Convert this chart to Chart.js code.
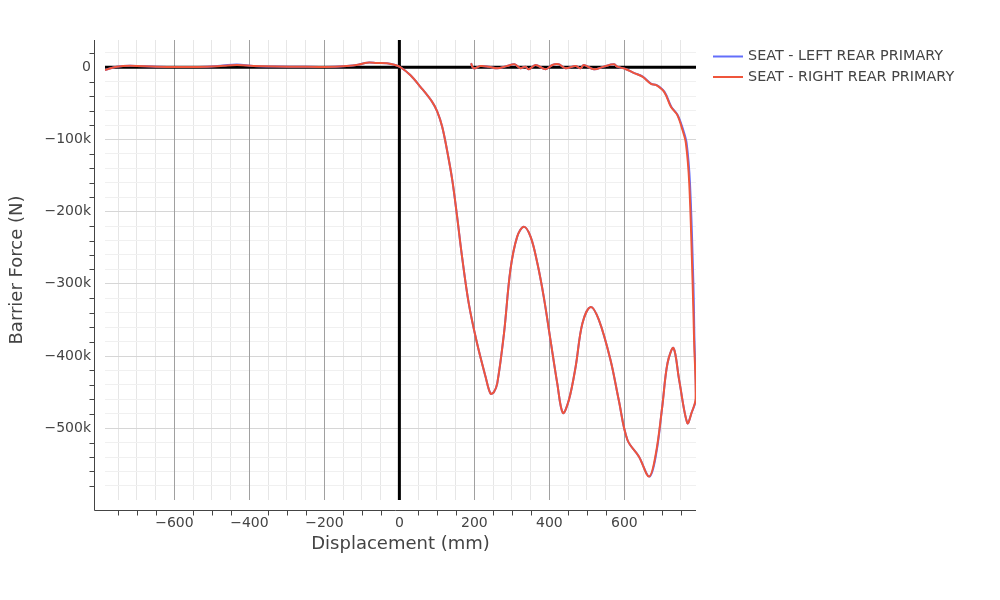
<!DOCTYPE html>
<html>
<head>
<meta charset="utf-8">
<script src="https://cdn.jsdelivr.net/npm/chart.js@4.4.1/dist/chart.umd.min.js"></script>
<style>
  body { margin: 0; background: #fff; }
</style>
</head>
<body>
<canvas id="forceChart" width="1000" height="600"></canvas>
<script>
// series names
var seriesNames = ['SEAT - LEFT REAR PRIMARY', 'SEAT - RIGHT REAR PRIMARY'];

// right rear: displacement (mm), barrier force (kN) - loading then unloading
var rightDisp = [-785, -754, -718, -647, -580, -513, -470, -433, -389, -330, -273, -200, -140, -110, -86, -60, -33, -11, 3,
  29, 56, 87, 101, 114, 127, 141, 154, 167, 185, 207, 230, 243, 252, 261, 279, 296, 314, 332, 350, 368, 385, 403, 421,
  436, 452, 470, 488, 510, 532, 563, 585, 608, 639, 666, 684, 701, 715, 731, 746, 768, 779, 790,
  786, 782, 773, 764, 755, 741, 724, 706, 684, 671, 648, 626, 603, 581, 572, 545, 519, 492, 483, 470, 443, 425, 408,
  390, 363, 345, 336, 323, 307, 287, 261, 238, 216, 198, 191];
var rightForce = [-3.7, 0.8, 2.2, 0.8, 0.5, 0.8, 2, 3, 1.8, 1, 0.8, 0.5, 1.8, 3.5, 6.4, 6, 5.5, 3.2, 0,
  -10.7, -27, -47.6, -61.5, -82, -114.6, -156, -207, -262, -327, -382, -429, -452, -450, -438, -368.5, -281, -235, -221, -235, -271.5, -318, -378, -438,
  -479, -461, -415, -355, -332, -350, -405.5, -461, -516, -539.5, -567, -535, -470, -410, -389, -433, -493, -479, -459,
  -380, -299, -161, -105, -87, -66, -54.6, -34, -24.5, -23, -13, -8, -2.4, 0.9, 4.1, 0.9, -2.8, 3.2, -1.4, 1.8, -1.4, 4.1, 3.2,
  -2.8, 3.2, -2.8, 0.9, -1.4, 4.1, 1.8, -1.4, 0.9, 1.8, -1.4, 5.5];

// left rear: nearly identical trace
var leftDisp = [-785, -754, -718, -647, -580, -513, -470, -433, -389, -330, -273, -200, -140, -110, -86, -60, -33, -11, 3,
  29, 56, 87, 101, 114, 127, 141, 154, 167, 185, 207, 230, 243, 252, 261, 279, 296, 314, 332, 350, 368, 385, 403, 421,
  436, 452, 470, 488, 510, 532, 563, 585, 608, 639, 667, 685, 701, 715, 731, 746, 768, 779, 791,
  787, 784, 775, 766, 757, 742, 725, 707, 685, 672, 649, 627, 603, 581, 572, 545, 519, 492, 483, 470, 443, 425, 408,
  390, 363, 345, 336, 323, 307, 287, 261, 238, 216, 198, 191];
var leftForce = [-3.7, 0.8, 2.2, 0.8, 0.5, 0.8, 2.5, 3.8, 1.8, 1, 0.8, 0.5, 1.8, 3.5, 6.4, 6, 5.5, 3.2, 0,
  -10.7, -27, -47.6, -61.5, -82, -114.6, -156, -207, -262, -327, -382, -429, -452, -450, -438, -368.5, -281, -235, -221, -235, -271.5, -318, -378, -438,
  -479, -461, -415, -355, -332, -350, -405.5, -461, -516, -539.5, -567, -535, -470, -410, -389, -433, -493, -479, -459,
  -380, -299, -161, -105, -87, -66, -54.6, -34, -24.5, -23, -13, -8, -2.4, 0.9, 4.1, 0.9, -2.8, 3.2, -1.4, 1.8, -1.4, 4.1, 3.2,
  -2.8, 3.2, -2.8, 0.9, -1.4, 4.1, 1.8, -1.4, 0.9, 1.8, -1.4, 5.5];

// axis ranges and steps (force axis in kN, labelled with k)
var xMin = -785, xMax = 791, xMinorStep = 50, xLabelStep = 200;
var yMin = -599.5, yMax = 37.8, yMinorStep = 20, yLabelStep = 100;

var FONT = 'DejaVu Sans';
var TEXT = '#444';

function toPoints(xs, ys) {
    return xs.map(function(x, i) { return {x: x, y: ys[i]}; });
}

function minusLabel(v) {
    return v < 0 ? '\u2212' + Math.abs(v) : String(v);
}

// major x grid and black zero lines on top of the light grid, under the traces
var zeroLines = {
    id: 'zeroLines',
    beforeDatasetsDraw: function(chart) {
        var ctx = chart.ctx, a = chart.chartArea;
        var xs = chart.scales.x;
        ctx.save();
        ctx.strokeStyle = '#a0a0a0';
        ctx.lineWidth = 1;
        ctx.beginPath();
        xs.ticks.forEach(function(t) {
            if (t.value === 0 || t.value % xLabelStep !== 0) return;
            var px = Math.round(xs.getPixelForValue(t.value)) + 0.5;
            ctx.moveTo(px, a.top);
            ctx.lineTo(px, a.bottom);
        });
        ctx.stroke();
        var x0 = xs.getPixelForValue(0);
        var y0 = chart.scales.y.getPixelForValue(0);
        ctx.strokeStyle = '#000';
        ctx.lineWidth = 3;
        ctx.beginPath();
        ctx.moveTo(x0, a.top);
        ctx.lineTo(x0, a.bottom);
        ctx.moveTo(a.left, y0);
        ctx.lineTo(a.right, y0);
        ctx.stroke();
        ctx.restore();
    }
};

// offset axis lines with minor tick marks
var offsetAxes = {
    id: 'offsetAxes',
    afterDraw: function(chart) {
        var ctx = chart.ctx, a = chart.chartArea;
        var xs = chart.scales.x, ys = chart.scales.y;
        var axX = a.left - 10.5, axY = a.bottom + 10.5;
        ctx.save();
        ctx.strokeStyle = TEXT;
        ctx.lineWidth = 1;
        ctx.beginPath();
        ctx.moveTo(axX, a.top);
        ctx.lineTo(axX, axY);
        ctx.lineTo(a.right, axY);
        xs.ticks.forEach(function(t) {
            if (t.value % xLabelStep === 0) return;
            var px = Math.round(xs.getPixelForValue(t.value)) + 0.5;
            ctx.moveTo(px, axY);
            ctx.lineTo(px, axY + 5);
        });
        ys.ticks.forEach(function(t) {
            if (t.value % yLabelStep === 0) return;
            var py = Math.round(ys.getPixelForValue(t.value)) + 0.5;
            ctx.moveTo(axX, py);
            ctx.lineTo(axX - 5, py);
        });
        ctx.stroke();
        ctx.restore();
    }
};

// legend on the right, outside the plot
var sideLegend = {
    id: 'sideLegend',
    afterDraw: function(chart) {
        var ctx = chart.ctx;
        ctx.save();
        ctx.font = '14.4px "' + FONT + '"';
        ctx.textBaseline = 'middle';
        chart.data.datasets.forEach(function(ds, i) {
            var y = 56.5 + i * 20.5;
            ctx.strokeStyle = ds.borderColor;
            ctx.lineWidth = 2;
            ctx.beginPath();
            ctx.moveTo(713, y);
            ctx.lineTo(743, y);
            ctx.stroke();
            ctx.fillStyle = TEXT;
            ctx.fillText(ds.label, 748, y);
        });
        ctx.restore();
    }
};

var ctx = document.getElementById('forceChart').getContext('2d');
var forceChart = new Chart(ctx, {
    type: 'scatter',
    data: {
        datasets: [{
            label: seriesNames[0],
            data: toPoints(leftDisp, leftForce),
            borderColor: '#636efa',
            order: 1
        }, {
            label: seriesNames[1],
            data: toPoints(rightDisp, rightForce),
            borderColor: '#ef553b',
            order: 0
        }]
    },
    options: {
        responsive: false,
        animation: false,
        showLine: true,
        elements: {
            point: { radius: 0, hoverRadius: 0 },
            line: { borderWidth: 2, tension: 0.35, fill: false }
        },
        layout: { padding: { left: 7, top: 40, right: 304, bottom: 45 } },
        plugins: {
            legend: { display: false },
            tooltip: { enabled: false }
        },
        scales: {
            x: {
                type: 'linear',
                min: xMin,
                max: xMax,
                afterFit: function(scale) { scale.height = 55; },
                border: { display: false },
                grid: {
                    drawTicks: false,
                    color: '#e6e6e6'
                },
                ticks: {
                    stepSize: xMinorStep,
                    includeBounds: false,
                    autoSkip: false,
                    maxRotation: 0,
                    padding: 15,
                    color: TEXT,
                    font: { family: FONT, size: 14 },
                    callback: function(v) { return v % xLabelStep === 0 ? minusLabel(v) : ''; }
                },
                title: {
                    display: true,
                    text: 'Displacement (mm)',
                    color: TEXT,
                    font: { family: FONT, size: 18 },
                    padding: 0
                }
            },
            y: {
                type: 'linear',
                min: yMin,
                max: yMax,
                afterFit: function(scale) { scale.width = 98; },
                border: { display: false },
                grid: {
                    drawTicks: false,
                    color: function(c) {
                        return c.tick.value % yLabelStep === 0 ? '#d6d6d6' : '#f0f0f0';
                    }
                },
                ticks: {
                    stepSize: yMinorStep,
                    includeBounds: false,
                    autoSkip: false,
                    padding: 14,
                    color: TEXT,
                    font: { family: FONT, size: 14 },
                    callback: function(v) {
                        if (v % yLabelStep !== 0) return '';
                        return v === 0 ? '0' : minusLabel(v) + 'k';
                    }
                },
                title: {
                    display: true,
                    text: 'Barrier Force (N)',
                    color: TEXT,
                    font: { family: FONT, size: 18 },
                    padding: 0
                }
            }
        }
    },
    plugins: [zeroLines, offsetAxes, sideLegend]
});
</script>
</body>
</html>
